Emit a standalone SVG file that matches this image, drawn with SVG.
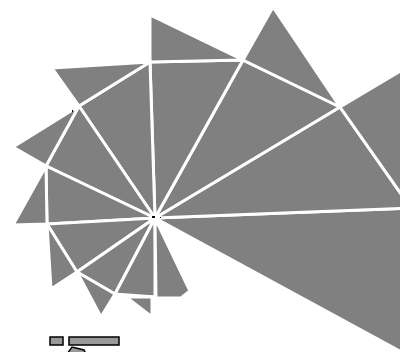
<svg xmlns="http://www.w3.org/2000/svg" width="400" height="352" viewBox="0 0 400 352">
<style>
.t{fill:#808080;stroke:#ffffff;stroke-width:3;stroke-linejoin:miter;stroke-miterlimit:2}
.lg{fill:#999999;stroke:#000000;stroke-width:1.5}
</style>
<rect width="400" height="352" fill="#ffffff"/>
<g id="spiral">
<polygon id="i0" class="t" points="155,218 420,362 411,208"/>
<polygon id="i1" class="t" points="155,218 411,208 340,107"/>
<polygon id="e1" class="t" points="411,208 412,64 340,107"/>
<polygon id="i2" class="t" points="155,218 340,107 243,60"/>
<polygon id="e2" class="t" points="340,107 273,7 243,60"/>
<polygon id="i3" class="t" points="155,218 243,60 150,62"/>
<polygon id="e3" class="t" points="243,60 150,15 150,62"/>
<polygon id="i4" class="t" points="155,218 150,62 79,106"/>
<polygon id="e4" class="t" points="150,62 52,68 79,106"/>
<polygon id="i5" class="t" points="155,218 79,106 46,166"/>
<polygon id="e5" class="t" points="79,106 13,147 46,166"/>
<polygon id="i6" class="t" points="155,218 46,166 47,224"/>
<polygon id="e6" class="t" points="46,166 13,225 47,224"/>
<polygon id="i7" class="t" points="155,218 47,224 77,272"/>
<polygon id="e7" class="t" points="47,224 51,289 77,272"/>
<polygon id="i8" class="t" points="155,218 77,272 115,294"/>
<polygon id="e8" class="t" points="77,272 101,317 115,294"/>
<polygon id="i9" class="t" points="155,218 115,294 155,297"/>
<polygon id="e9" class="t" points="126,297 152,297 152,317"/>
<polygon id="i10" class="t" points="155,218 156,298 181,298 190,291"/>
</g>
<g id="marks" fill="#000000">
<rect x="152" y="216" width="3" height="2"/>
<rect x="160" y="217" width="1" height="1"/>
<rect x="72" y="110" width="1" height="2"/>
</g>
<g id="legend">
<rect class="lg" x="50" y="337" width="13" height="8"/>
<rect class="lg" x="69" y="337" width="50" height="8"/>
<polygon class="lg" points="67,354 72,347 84,350 86,354"/>
</g>
</svg>
